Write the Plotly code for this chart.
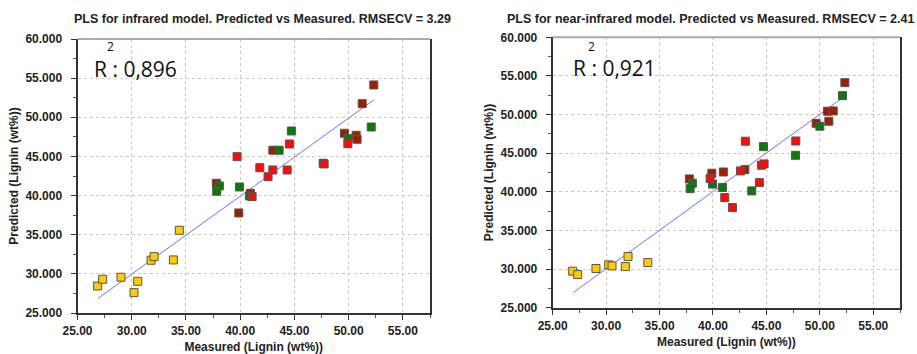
import plotly.graph_objects as go

# ---------------- data: infrared model (left) ----------------
ir_yellow_x = [26.86, 27.32, 29.01, 30.21, 30.55, 31.78, 32.06, 33.84, 34.39]
ir_yellow_y = [28.45, 29.31, 29.57, 27.60, 29.05, 31.74, 32.20, 31.78, 35.57]
ir_darkred_x = [37.80, 39.87, 40.94, 43.01, 47.65, 49.61, 50.69, 50.78, 51.25, 52.32]
ir_darkred_y = [41.57, 37.78, 40.29, 45.79, 44.13, 47.96, 47.70, 47.19, 51.74, 54.13]
ir_green_x = [38.08, 37.84, 39.93, 40.85, 43.59, 44.72, 49.95, 52.08]
ir_green_y = [41.23, 40.55, 41.10, 39.95, 45.79, 48.25, 47.27, 48.76]
ir_red_x = [39.71, 41.10, 41.81, 43.01, 42.57, 44.33, 44.54, 47.74, 49.93]
ir_red_y = [44.97, 39.86, 43.56, 43.27, 42.41, 43.27, 46.59, 44.04, 46.63]
ir_fit_x = [26.86, 52.32]
ir_fit_y = [26.83, 52.21]

# ---------------- data: near-infrared model (right) ----------------
nir_yellow_x = [26.87, 27.34, 29.05, 30.24, 30.55, 31.80, 32.05, 33.90]
nir_yellow_y = [29.73, 29.29, 30.07, 30.54, 30.41, 30.32, 31.62, 30.84]
nir_darkred_x = [37.79, 39.89, 40.97, 42.98, 49.65, 50.84, 50.71, 51.25, 52.34]
nir_darkred_y = [41.67, 42.41, 42.57, 42.87, 48.87, 49.13, 50.43, 50.47, 54.13]
nir_green_x = [38.07, 37.86, 39.96, 40.88, 43.63, 44.72, 47.72, 50.00, 52.12]
nir_green_y = [41.11, 40.41, 41.00, 40.57, 40.12, 45.85, 44.73, 48.49, 52.45]
nir_red_x = [39.73, 41.10, 41.82, 43.03, 42.57, 44.34, 44.53, 44.78, 47.75]
nir_red_y = [41.73, 39.25, 37.96, 46.55, 42.70, 41.19, 43.44, 43.61, 46.58]
nir_fit_x = [26.93, 52.21]
nir_fit_y = [26.96, 52.24]

titles = ["PLS for infrared model. Predicted vs Measured. RMSECV = 3.29",
          "PLS for near-infrared model. Predicted vs Measured. RMSECV = 2.41"]
r2_texts = ["R : 0,896", "R : 0,921"]
x_title = "Measured (Lignin (wt%))"
y_title = "Predicted (Lignin (wt%))"

COL_YELLOW = "#FFCC00"
COL_DARKRED = "#A01E00"
COL_GREEN = "#0A7A0A"
COL_RED = "#FF0A0A"
COL_FIT = "#7070FF"

fig = go.Figure()

panels = [
    dict(xa="x", ya="y", fit=(ir_fit_x, ir_fit_y),
         groups=[(ir_yellow_x, ir_yellow_y, COL_YELLOW), (ir_darkred_x, ir_darkred_y, COL_DARKRED),
                 (ir_green_x, ir_green_y, COL_GREEN), (ir_red_x, ir_red_y, COL_RED)]),
    dict(xa="x2", ya="y2", fit=(nir_fit_x, nir_fit_y),
         groups=[(nir_yellow_x, nir_yellow_y, COL_YELLOW), (nir_darkred_x, nir_darkred_y, COL_DARKRED),
                 (nir_green_x, nir_green_y, COL_GREEN), (nir_red_x, nir_red_y, COL_RED)]),
]

for p in panels:
    fig.add_trace(go.Scatter(x=p["fit"][0], y=p["fit"][1], mode="lines",
                             line=dict(color=COL_FIT, width=1), xaxis=p["xa"], yaxis=p["ya"],
                             hoverinfo="skip"))
    for gx, gy, col in p["groups"]:
        fig.add_trace(go.Scatter(x=gx, y=gy, mode="markers", xaxis=p["xa"], yaxis=p["ya"],
                                 marker=dict(symbol="square", size=8, color=col,
                                             line=dict(color="#555555", width=1))))

tick_font = dict(family="Arial", size=12, color="#222222", weight="bold")
title_font = dict(family="Arial", size=12, color="#222222", weight="bold")

def xaxis_cfg(domain, anchor):
    return dict(domain=domain, anchor=anchor, range=[25, 57.5], dtick=5, tick0=25,
                tickformat=".2f", tickfont=tick_font, automargin=False,
                showgrid=True, gridcolor="#c8c8c8", griddash="dot", gridwidth=1,
                showline=True, linecolor="#333333", linewidth=2, mirror=False,
                ticks="outside", ticklen=5, tickcolor="#333333", ticklabelstandoff=1,
                minor=dict(ticks="outside", ticklen=3, dtick=2.5, tickcolor="#555555", showgrid=False),
                zeroline=False,
                title=dict(text=x_title, font=title_font, standoff=6))

def yaxis_cfg(domain, anchor):
    return dict(domain=domain, anchor=anchor, range=[25, 60], dtick=5, tick0=25,
                tickformat=".3f", tickfont=tick_font, automargin=False,
                showgrid=True, gridcolor="#c8c8c8", griddash="dot", gridwidth=1,
                showline=True, linecolor="#333333", linewidth=2, mirror=True,
                ticks="outside", ticklen=5, tickcolor="#333333", ticklabelstandoff=6,
                minor=dict(ticks="outside", ticklen=3, dtick=2.5, tickcolor="#555555", showgrid=False),
                zeroline=False,
                title=dict(text=y_title, font=title_font, standoff=4))

W, H = 917, 354
fig.update_layout(
    width=W, height=H, margin=dict(l=0, r=0, t=0, b=0, autoexpand=False),
    paper_bgcolor="white", plot_bgcolor="white", showlegend=False,
    xaxis=xaxis_cfg([77.5 / W, 430 / W], "y"),
    yaxis=yaxis_cfg([1 - 313 / H, 1 - 39 / H], "x"),
    xaxis2=xaxis_cfg([552.7 / W, 900 / W], "y2"),
    yaxis2=yaxis_cfg([1 - 307.7 / H, 1 - 37.3 / H], "x2"),
)

# top frame lines (light grey)
for xr, yr in [("x domain", "y domain"), ("x2 domain", "y2 domain")]:
    fig.add_shape(type="line", xref=xr, yref=yr, x0=0, x1=1, y0=1, y1=1,
                  line=dict(color="#aaaaaa", width=2))

# titles
fig.add_annotation(text=f"<b>{titles[0]}</b>", xref="paper", yref="paper",
                   x=72 / W, y=1 - 19 / H, showarrow=False, xanchor="left", yanchor="middle",
                   font=dict(family="Arial", size=12.5, color="#222222"))
fig.add_annotation(text=f"<b>{titles[1]}</b>", xref="paper", yref="paper",
                   x=916 / W, y=1 - 19 / H, showarrow=False, xanchor="right", yanchor="middle",
                   font=dict(family="Arial", size=12.5, color="#222222"))

# R^2 labels
for rx, ry, sx, sy, txt in [(92, 69, 110, 46, r2_texts[0]), (571, 68, 591, 46, r2_texts[1])]:
    fig.add_annotation(text=txt, xref="paper", yref="paper", x=rx / W, y=1 - ry / H,
                       showarrow=False, xanchor="left", yanchor="middle",
                       font=dict(family="Open Sans", size=21, color="#111111"))
    fig.add_annotation(text="2", xref="paper", yref="paper", x=sx / W, y=1 - sy / H,
                       showarrow=False, xanchor="center", yanchor="middle",
                       font=dict(family="Open Sans", size=12, color="#111111"))

fig.write_html("out.html")
